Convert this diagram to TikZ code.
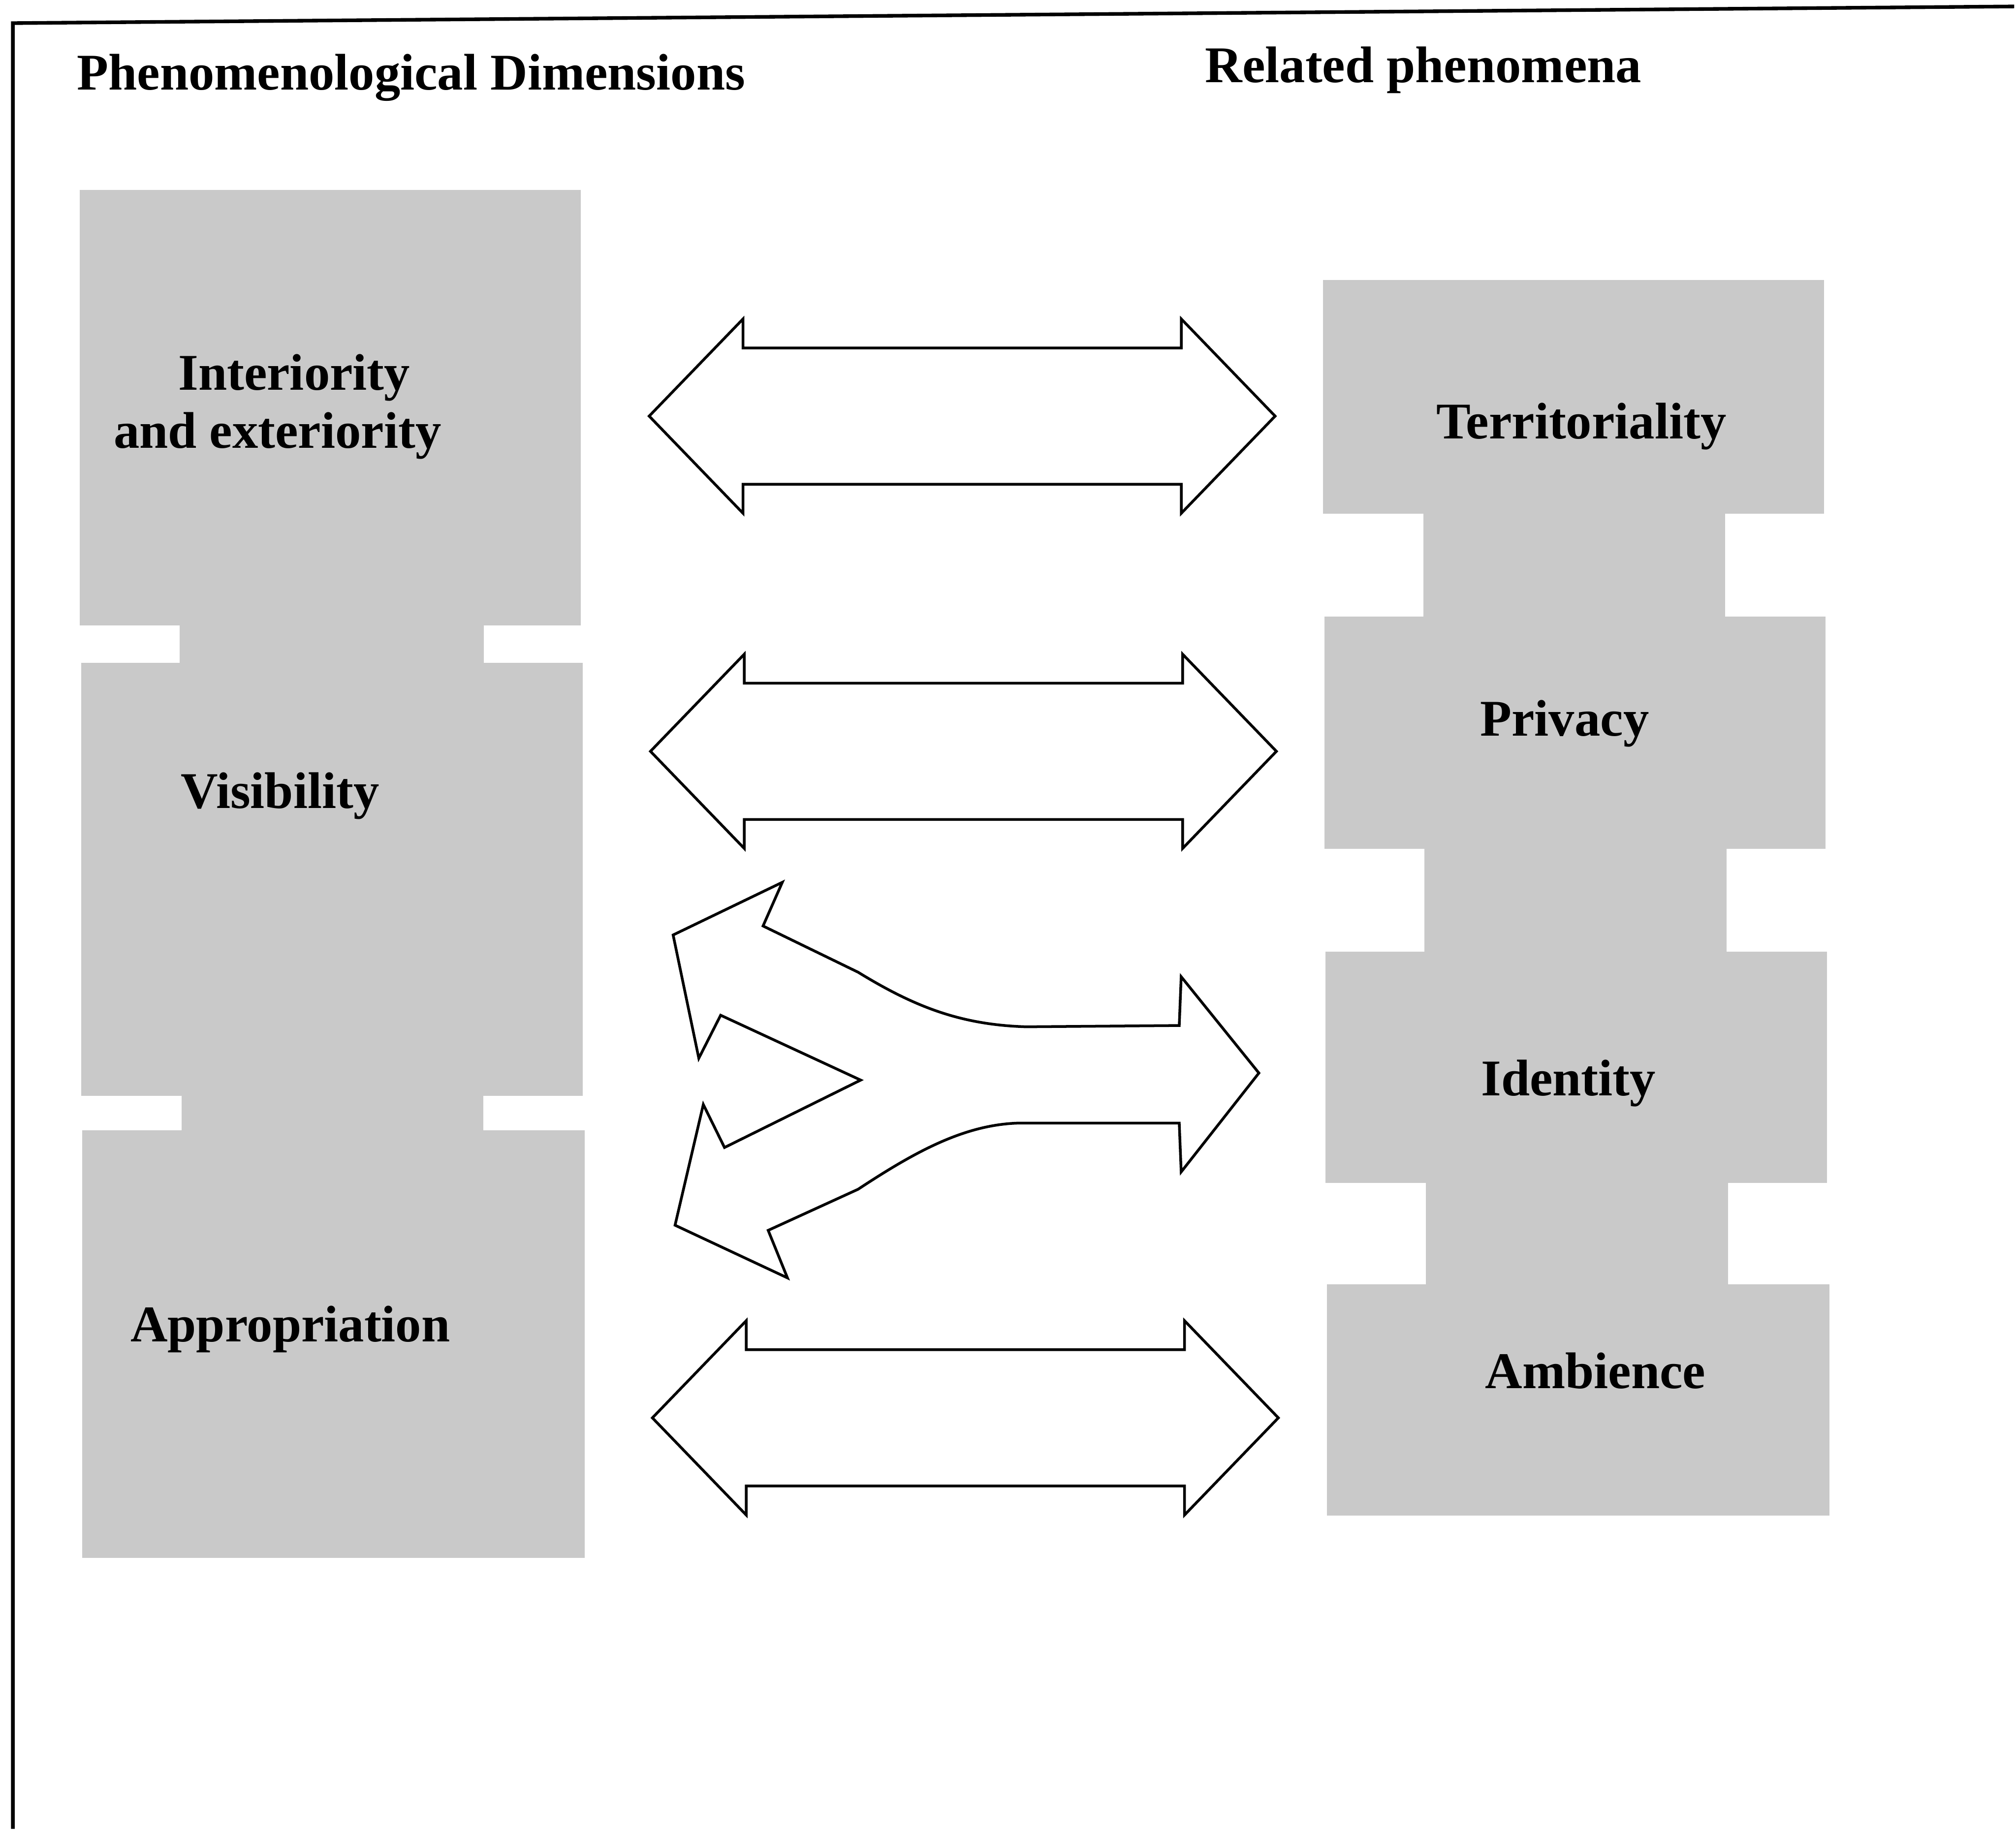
\documentclass[tikz,border=0pt]{standalone}
\usepackage{fontspec}
\setmainfont{Liberation Serif}
\usepackage{tikz}
\usetikzlibrary{shapes.arrows, positioning, calc}

\definecolor{panelgray}{RGB}{201,201,201}

\begin{document}
\begin{tikzpicture}[
    x=0.01cm, y=-0.01cm,
    panel/.style={rectangle, fill=panelgray, minimum width=3.9cm, inner sep=0pt, outer sep=0pt},
    lbl/.style={anchor=base, font=\fontsize{11.4}{13.4}\selectfont\bfseries, inner sep=0pt},
    twoway/.style={double arrow, draw=black, fill=white, line width=0.6pt, minimum height=4.87cm, minimum width=1.5cm,
        inner xsep=0pt, inner ysep=0.52cm, double arrow head extend=0.225cm, double arrow tip angle=92, double arrow head indent=0pt},
    fork/.style={draw=black, fill=white, line width=0.6pt, line join=miter}
]

% White Background / page size
\path [fill=white] (0,0) rectangle (1568,1424);

% Frame (scanned page border)
\draw[line width=0.8pt] (10,1424) -- (10,18) -- (1568,5);

% ==================== HEADINGS ====================

\node[lbl] (headL) at (320, 70) {Phenomenological Dimensions};
\node[lbl] (headR) at (1108, 64) {Related phenomena};

% ==================== LEFT COLUMN ====================

\node[panel, minimum height=3.39cm] (dimA) at (257, 317.5) {};
\node[panel, minimum height=3.37cm] (dimB) at (258.5, 684.5) {};
\node[panel, minimum height=3.33cm, minimum width=3.91cm] (dimC) at (259.5, 1046.5) {};

% necks between panels
\fill[panelgray] ($(dimA.south west)+(78,-2)$) rectangle ($(dimB.north east)+(-77,2)$);
\fill[panelgray] ($(dimB.south west)+(78,-2)$) rectangle ($(dimC.north east)+(-79,2)$);

\node[lbl] (intA) at (229, 303.5) {Interiority};
\node[lbl] (intB) at (216, 349) {and exteriority};
\node[lbl] (vis) at (218, 629.5) {Visibility};
\node[lbl] (appr) at (226, 1044.5) {Appropriation};

% ==================== RIGHT COLUMN ====================

\node[panel, minimum height=1.82cm] (terr) at (1225, 309) {};
\node[panel, minimum height=1.81cm] (priv) at (1226, 570.5) {};
\node[panel, minimum height=1.80cm] (iden) at (1227, 831) {};
\node[panel, minimum height=1.80cm, minimum width=3.91cm] (ambi) at (1228.5, 1090) {};

% necks between panels
\fill[panelgray] ($(terr.south west)+(78,-2)$) rectangle ($(priv.north east)+(-78,2)$);
\fill[panelgray] ($(priv.south west)+(78,-2)$) rectangle ($(iden.north east)+(-78,2)$);
\fill[panelgray] ($(iden.south west)+(78,-2)$) rectangle ($(ambi.north east)+(-79,2)$);

\node[lbl] (terrT) at (1231, 341.5) {Territoriality};
\node[lbl] (privT) at (1218, 573) {Privacy};
\node[lbl] (idenT) at (1221, 853) {Identity};
\node[lbl] (ambiT) at (1242, 1081) {Ambience};

% ==================== ARROWS ====================

\node[twoway] (arrA) at (749, 324) {};
\node[twoway] (arrB) at (750, 585) {};
\node[twoway] (arrD) at (751.5, 1104) {};

% forked arrow (two heads left, one head right)
\draw[fork] (524,728) -- (609,687) -- (594,721) -- (668,757)
    .. controls (712,784) and (748,798) .. (799,799.5) -- (918,798.5)
    -- (919.5,760.5) -- (980,835.5) -- (919.5,912.5) -- (918,874.5) -- (792,874.5)
    .. controls (750,876) and (712,897) .. (668,926) -- (598,958)
    -- (613,995) -- (525.5,954) -- (547.5,860) -- (564,893.5) -- (670,841)
    -- (561,790.5) -- (544,824) -- cycle;

\end{tikzpicture}
\end{document}
